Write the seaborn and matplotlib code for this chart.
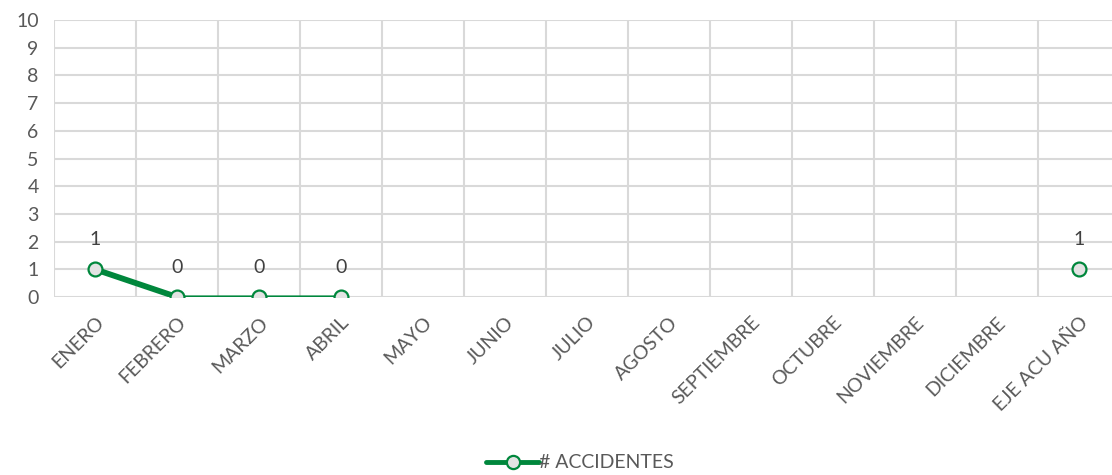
import numpy as np
import pandas as pd
import matplotlib
matplotlib.use("Agg")
import matplotlib.pyplot as plt
import seaborn as sns
from matplotlib.lines import Line2D

meses = ["ENERO", "FEBRERO", "MARZO", "ABRIL", "MAYO", "JUNIO", "JULIO",
         "AGOSTO", "SEPTIEMBRE", "OCTUBRE", "NOVIEMBRE", "DICIEMBRE", "EJE ACU AÑO"]
accidentes = [1, 0, 0, 0, None, None, None, None, None, None, None, None, 1]
y_ticks = list(range(0, 11))
serie = "# ACCIDENTES"

verde = "#00873c"
relleno = "#e3e3e3"
gris_texto = "#595959"
fs = 14

sns.set_theme(style="white")
plt.rcParams["font.family"] = ["Lato", "DejaVu Sans"]

df = pd.DataFrame({"mes": meses, "valor": pd.array(accidentes, dtype="Float64").astype(float)})
df["pos"] = np.arange(len(meses))

fig = plt.figure(figsize=(11.12, 4.75), dpi=100)
ax = fig.add_axes([54 / 1112, 1 - 297 / 475, 1066 / 1112, 277 / 475])

# main series line (gaps where there is no data)
ax.plot(df["pos"], df["valor"], color=verde, lw=2.3, zorder=3, solid_capstyle="round")
# first segment drawn heavier
sns.lineplot(data=df.iloc[:2], x="pos", y="valor", ax=ax, color=verde, lw=4.2,
             zorder=3, legend=False)
sns.scatterplot(data=df.dropna(), x="pos", y="valor", ax=ax, s=100, color=relleno,
                edgecolor=verde, linewidth=1.6, zorder=4, legend=False)

for p, v in zip(df["pos"], df["valor"]):
    if not np.isnan(v):
        ax.annotate(f"{v:.0f}", (p, v), xytext=(0, 21.5), textcoords="offset points",
                    ha="center", va="center", fontsize=fs, color="#404040")

ax.set_xlim(-0.5, len(meses) - 0.5)
ax.set_ylim(0, 10)
ax.set_yticks(y_ticks)
ax.set_yticklabels([str(t) for t in y_ticks], fontsize=fs, color=gris_texto)
ax.set_xticks(df["pos"])
ax.set_xticklabels(meses, rotation=45, ha="right", rotation_mode="anchor",
                   fontsize=fs, color=gris_texto)
ax.tick_params(axis="both", length=0)
ax.tick_params(axis="y", pad=11)
ax.tick_params(axis="x", pad=12)
ax.set_xlabel("")
ax.set_ylabel("")

# horizontal grid on integers, vertical grid between categories
for y in y_ticks:
    ax.axhline(y, color="#d9d9d9", lw=1.5, zorder=1)
for x in np.arange(-0.5, len(meses), 1.0):
    ax.axvline(x, color="#d9d9d9", lw=1.5, zorder=1)
for s in ax.spines.values():
    s.set_visible(False)

handle = Line2D([0], [0], color=verde, lw=3.5, marker="o", markersize=9.5,
                markerfacecolor=relleno, markeredgecolor=verde, markeredgewidth=1.6)
fig.legend([handle], [serie], loc="center", bbox_to_anchor=(580 / 1112, 1 - 463 / 475),
           frameon=False, fontsize=fs, handlelength=2.7, handletextpad=0.0,
           labelcolor=gris_texto)

fig.savefig("out.png", dpi=100)
